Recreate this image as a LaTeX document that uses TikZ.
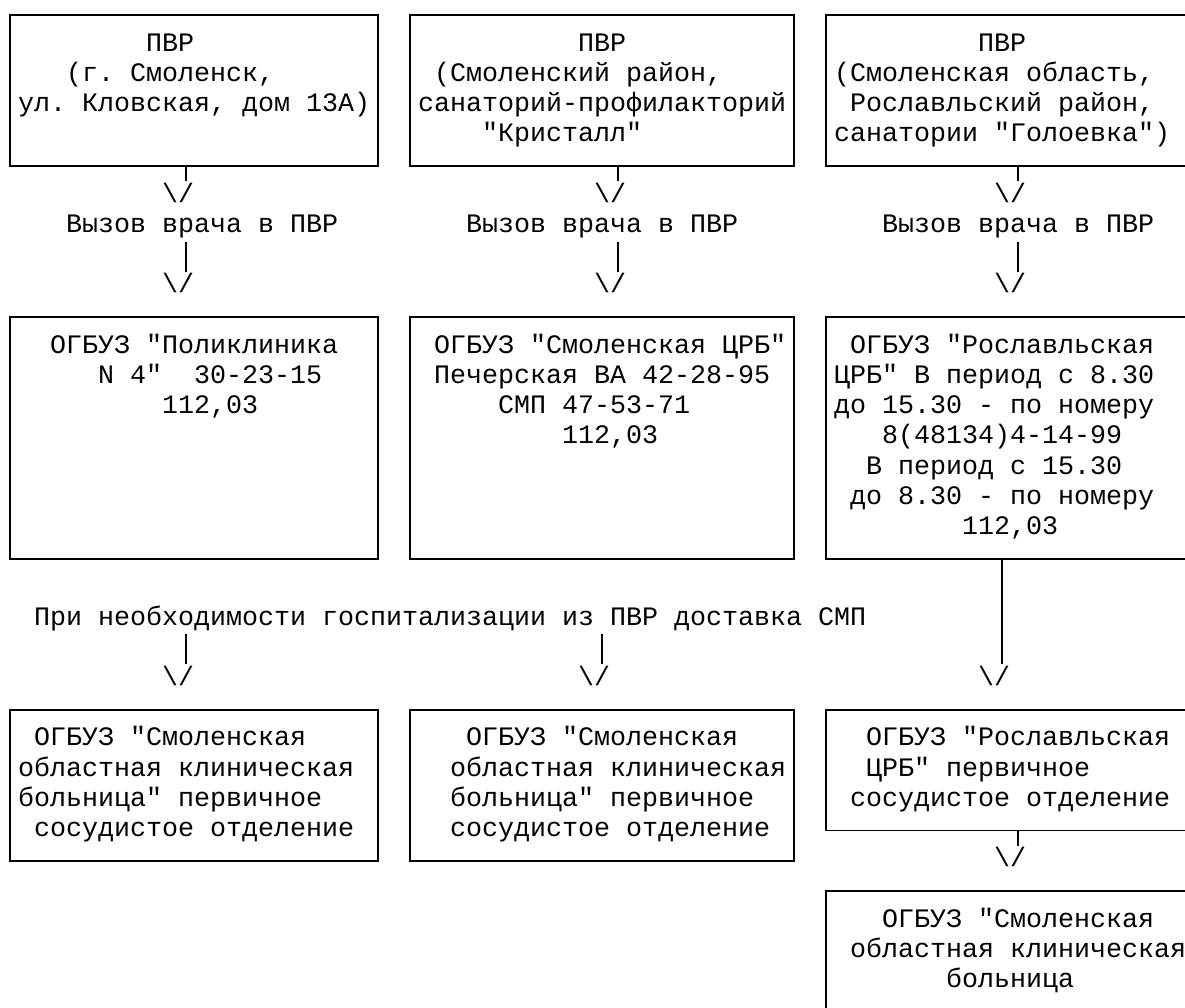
\documentclass[tikz,border=0pt]{standalone}
\usepackage{fontspec}
\setmonofont{Liberation Mono}
\newcommand{\dnarrow}{\textbackslash/}
\tikzset{
  box/.style={draw, line width=1.8pt, inner sep=0pt, outer sep=0pt, anchor=north west},
  txt/.style={anchor=base west, inner sep=0pt, outer sep=0pt,
    font=\ttfamily\fontsize{26.67pt}{30pt}\selectfont\frenchspacing},
  stem/.style={line width=1.8pt},
}
% text line: name, column, row, text
\newcommand{\txtline}[4]{\node[txt] (#1) at ({2+16*(#2)},{21+30.2*(#3)}) {#4};}
% box: name, col1, row1, col2, row2
\newcommand{\cbox}[5]{\node[box, minimum width={16*((#4)-(#2))}, minimum height={30.2*((#5)-(#3))}] (#1) at ({10+16*(#2)},{15+30.2*(#3)}) {};}
% named point at column centre / row
\newcommand{\pt}[3]{\coordinate (#1) at ({10+16*(#2)},{15+30.2*(#3)});}
\begin{document}
\begin{tikzpicture}[x=1pt,y=-1pt]
\useasboundingbox (0,0) rectangle (1185,1007);
\clip (0,0) rectangle (1185,1007);
\fill[white] (0,0) rectangle (1185,1007);

% ---------- boxes ----------
\cbox{b11}{0}{0}{23}{5}
\cbox{b12}{25}{0}{49}{5}
\cbox{b13}{51}{0}{74}{5}
\cbox{b21}{0}{10}{23}{18}
\cbox{b22}{25}{10}{49}{18}
\cbox{b23}{51}{10}{74}{18}
\cbox{b31}{0}{23}{23}{28}
\cbox{b32}{25}{23}{49}{28}
\cbox{b33}{51}{23}{74}{27}
\cbox{b41}{51}{29}{74}{36}

% ---------- row 1 texts ----------
\txtline{t11a}{9}{1}{ПВР}
\txtline{t11b}{4}{2}{(г. Смоленск,}
\txtline{t11c}{1}{3}{ул. Кловская, дом 13А)}
\txtline{t12a}{36}{1}{ПВР}
\txtline{t12b}{27}{2}{(Смоленский район,}
\txtline{t12c}{26}{3}{санаторий-профилакторий}
\txtline{t12d}{30}{4}{"Кристалл"}
\txtline{t13a}{61}{1}{ПВР}
\txtline{t13b}{52}{2}{(Смоленская область,}
\txtline{t13c}{53}{3}{Рославльский район,}
\txtline{t13d}{52}{4}{санатории "Голоевка")}

% ---------- calls ----------
\txtline{a11}{10}{6}{\dnarrow}
\txtline{v1}{4}{7}{Вызов врача в ПВР}
\txtline{a12}{10}{9}{\dnarrow}
\txtline{a21}{37}{6}{\dnarrow}
\txtline{v2}{29}{7}{Вызов врача в ПВР}
\txtline{a22}{37}{9}{\dnarrow}
\txtline{a31}{62}{6}{\dnarrow}
\txtline{v3}{55}{7}{Вызов врача в ПВР}
\txtline{a32}{62}{9}{\dnarrow}

\pt{p11}{11}{5.5}\pt{p12}{11}{7.5}\pt{p13}{11}{8.5}
\pt{p21}{38}{5.5}\pt{p22}{38}{7.5}\pt{p23}{38}{8.5}
\pt{p31}{63}{5.5}\pt{p32}{63}{7.5}\pt{p33}{63}{8.5}
\draw[stem] (b11.south -| p11) -- (p11);
\draw[stem] (p12) -- (p13);
\draw[stem] (b12.south -| p21) -- (p21);
\draw[stem] (p22) -- (p23);
\draw[stem] (b13.south -| p31) -- (p31);
\draw[stem] (p32) -- (p33);

% ---------- row 2 texts ----------
\txtline{t21a}{3}{11}{ОГБУЗ "Поликлиника}
\txtline{t21b}{6}{12}{N 4"\ \ 30-23-15}
\txtline{t21c}{10}{13}{112,03}
\txtline{t22a}{27}{11}{ОГБУЗ "Смоленская ЦРБ"}
\txtline{t22b}{27}{12}{Печерская ВА 42-28-95}
\txtline{t22c}{31}{13}{СМП 47-53-71}
\txtline{t22d}{35}{14}{112,03}
\txtline{t23a}{53}{11}{ОГБУЗ "Рославльская}
\txtline{t23b}{52}{12}{ЦРБ" В период с 8.30}
\txtline{t23c}{52}{13}{до 15.30 - по номеру}
\txtline{t23d}{55}{14}{8(48134)4-14-99}
\txtline{t23e}{54}{15}{В период с 15.30}
\txtline{t23f}{53}{16}{до 8.30 - по номеру}
\txtline{t23g}{60}{17}{112,03}

% ---------- hospitalisation ----------
\txtline{hosp}{2}{20}{При необходимости госпитализации из ПВР доставка СМП}
\txtline{a13}{10}{22}{\dnarrow}
\txtline{a23}{36}{22}{\dnarrow}
\txtline{a33}{61}{22}{\dnarrow}
\pt{q11}{11}{20.5}\pt{q12}{11}{21.5}
\pt{q21}{37}{20.5}\pt{q22}{37}{21.5}
\pt{q32}{62}{21.5}
\draw[stem] (q11) -- (q12);
\draw[stem] (q21) -- (q22);
\draw[stem] (b23.south -| q32) -- (q32);

% ---------- row 3 texts ----------
\txtline{t31a}{2}{24}{ОГБУЗ "Смоленская}
\txtline{t31b}{1}{25}{областная клиническая}
\txtline{t31c}{1}{26}{больница" первичное}
\txtline{t31d}{2}{27}{сосудистое отделение}
\txtline{t32a}{29}{24}{ОГБУЗ "Смоленская}
\txtline{t32b}{28}{25}{областная клиническая}
\txtline{t32c}{28}{26}{больница" первичное}
\txtline{t32d}{28}{27}{сосудистое отделение}
\txtline{t33a}{54}{24}{ОГБУЗ "Рославльская}
\txtline{t33b}{54}{25}{ЦРБ" первичное}
\txtline{t33c}{53}{26}{сосудистое отделение}

\txtline{a34}{62}{28}{\dnarrow}
\pt{r31}{63}{27.5}
\draw[stem] (b33.south -| r31) -- (r31);

% ---------- row 4 ----------
\txtline{t41a}{55}{30}{ОГБУЗ "Смоленская}
\txtline{t41b}{53}{31}{областная клиническая}
\txtline{t41c}{59}{32}{больница}
\end{tikzpicture}
\end{document}
